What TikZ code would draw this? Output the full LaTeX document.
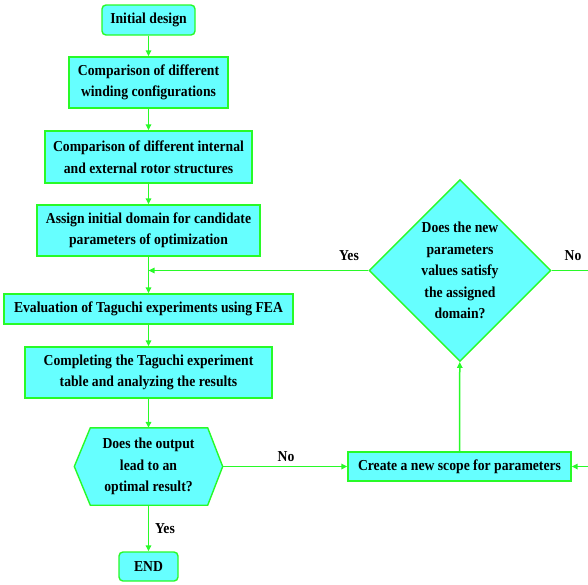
\documentclass[tikz,border=0pt]{standalone}
\usepackage{fontspec}
\setmainfont{Liberation Serif}[FakeStretch=0.9]
\usetikzlibrary{shapes.geometric,arrows.meta,calc}
\definecolor{lgreen}{RGB}{40,250,40}
\definecolor{lcyan}{RGB}{102,255,255}
\pgfdeclarelayer{bg}
\pgfsetlayers{bg,main}
\begin{document}
\begin{tikzpicture}[x=1pt,y=-1pt,
  every node/.style={font=\fontsize{15.2}{21.5}\selectfont\bfseries, text=black},
  box/.style={draw=lgreen, fill=lcyan, line width=1.4pt, inner sep=0pt, align=center},
  rbox/.style={box, rounded corners=4pt},
  dec/.style={diamond, draw=lgreen, fill=lcyan, line width=1.4pt, inner sep=0pt, aspect=1, align=center, minimum width=182pt, minimum height=182pt},
  hexn/.style={inner sep=0pt, align=center},
  lbl/.style={inner sep=0pt},
  con/.style={draw=lgreen, line width=1.5pt},
  arr/.style={con, -{Triangle[length=6pt,width=5.5pt]}}
]
\useasboundingbox (0,0) rectangle (588,584);

\node[rbox, minimum width=93pt, minimum height=30pt] (init) at (148.5,20) {Initial design};
\node[box, minimum width=159pt, minimum height=51pt] (b2) at (148.5,82.5) {Comparison of different\\winding configurations};
\node[box, minimum width=207pt, minimum height=52pt] (b3) at (148.5,157) {Comparison of different internal\\and external rotor structures};
\node[box, minimum width=223pt, minimum height=51pt] (b4) at (148.5,230.5) {Assign initial domain for candidate\\parameters of optimization};
\node[box, minimum width=289pt, minimum height=30pt] (eval) at (148.5,309) {Evaluation of Taguchi experiments using FEA};
\node[box, minimum width=247pt, minimum height=51pt] (comp) at (148.5,372.5) {Completing the Taguchi experiment\\table and analyzing the results};
\node[hexn, minimum width=148pt, minimum height=77pt] (hex) at (148.5,466.5) {Does the output\\lead to an\\optimal result?};
\node[rbox, minimum width=59pt, minimum height=29pt] (end) at (148.5,566.5) {END};
\node[box, minimum width=223pt, minimum height=29pt] (scope) at (459.5,466.5) {Create a new scope for parameters};
\node[dec] (dia) at (460,270.5) {Does the new\\parameters\\values satisfy\\the assigned\\domain?};

\begin{pgfonlayer}{bg}
\draw[box] (hex.west) -- ($(hex.north west)+(16,0)$) -- ($(hex.north east)+(-15,0)$) -- (hex.east)
  -- ($(hex.south east)+(-15,0)$) -- ($(hex.south west)+(16,0)$) -- cycle;
\end{pgfonlayer}

\coordinate (join) at (148.5,270.5);
\coordinate (rt) at (610,270.5);
\coordinate (rb) at (610,466.5);

\draw[arr] (init) -- (b2);
\draw[arr] (b2) -- (b3);
\draw[arr] (b3) -- (b4);
\draw[arr] (b4) -- (eval);
\draw[arr] (eval) -- (comp);
\draw[arr] (comp) -- (hex);
\draw[arr] (hex) -- (end);
\draw[arr] (hex) -- (scope);
\draw[arr] (scope) -- (dia);
\draw[arr] (dia.west) -- (join);
\draw[arr] (dia.east) -- (rt) -- (rb) -- (scope.east);

\node[lbl] (yes1) at (349,256) {Yes};
\node[lbl] (no1) at (573,256) {No};
\node[lbl] (no2) at (286,457) {No};
\node[lbl] (yes2) at (165,529) {Yes};
\end{tikzpicture}
\end{document}
